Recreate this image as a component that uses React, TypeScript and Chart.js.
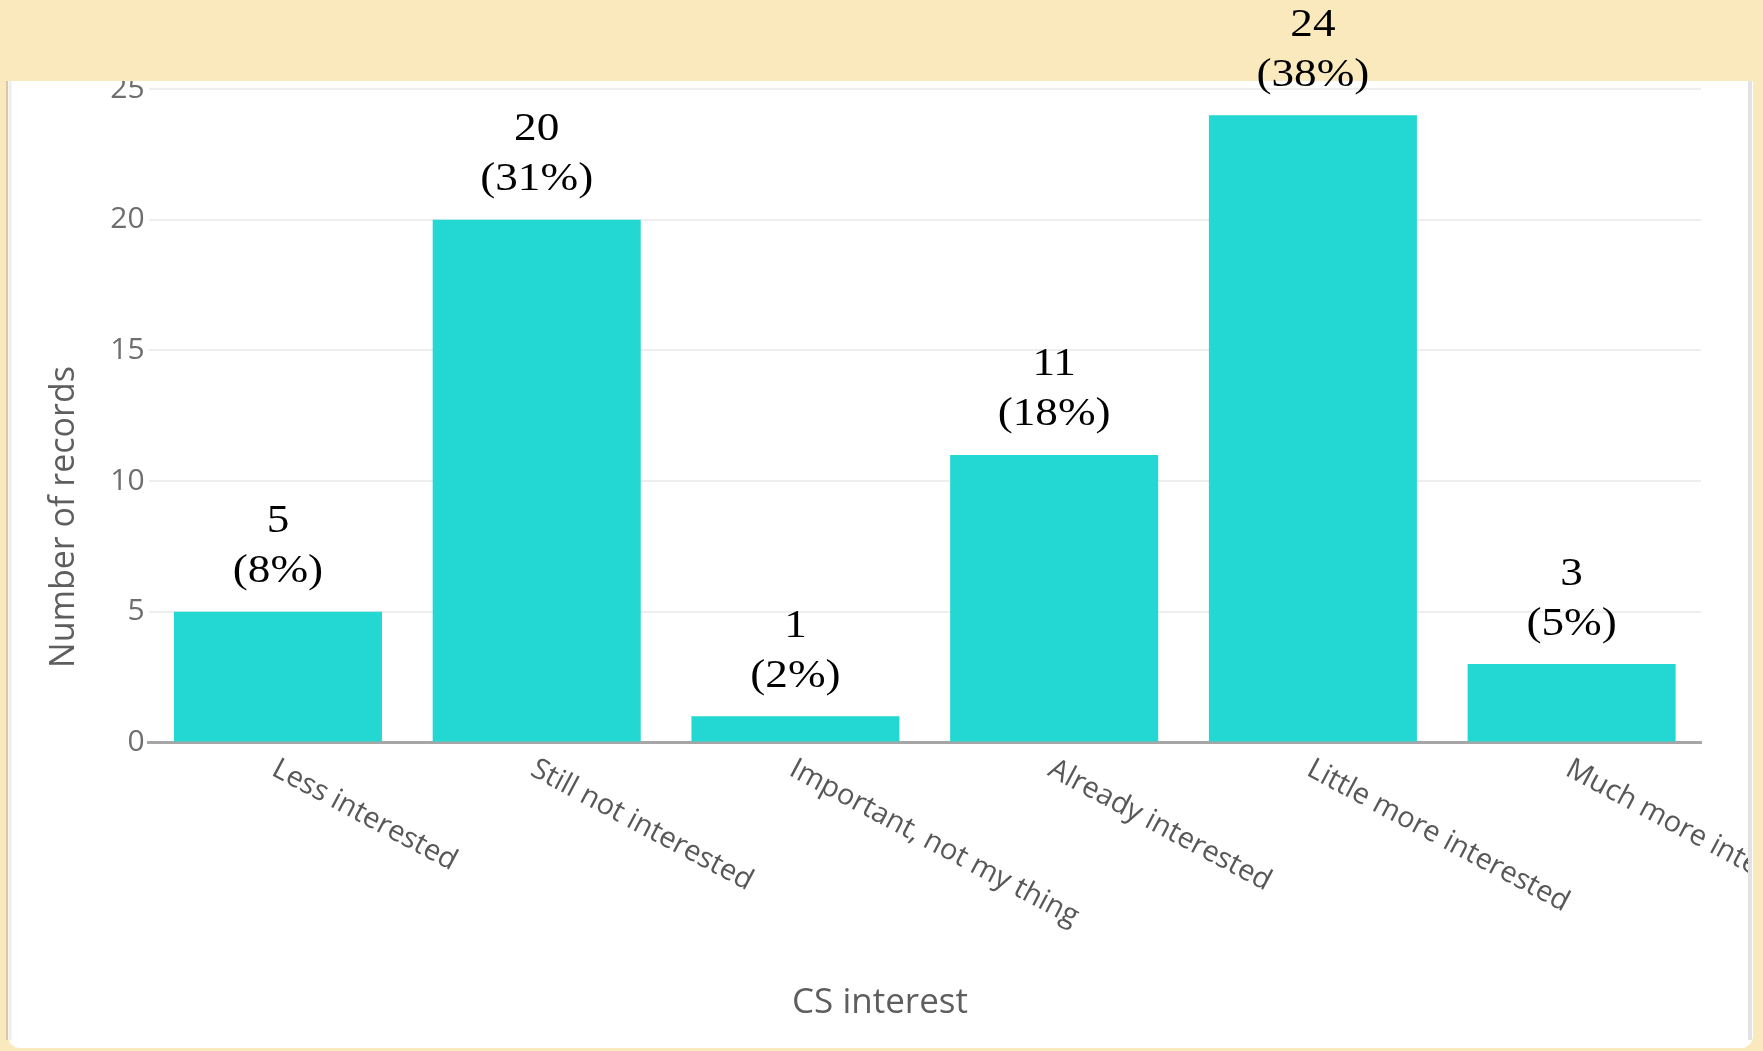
import React, { useEffect, useRef } from "react";
import { Chart, registerables } from "chart.js";

Chart.register(...registerables);

// ---- data ----
const categories = [
  "Less interested",
  "Still not interested",
  "Important, not my thing",
  "Already interested",
  "Little more interested",
  "Much more interested",
];
const counts = [5, 20, 1, 11, 24, 3];
const percentLabels = ["(8%)", "(31%)", "(2%)", "(18%)", "(38%)", "(5%)"];
const yMin = 0;
const yMax = 25;
const yStep = 5;
const xTitle = "CS interest";
const yTitle = "Number of records";

// ---- styles ----
const BEIGE = "#F9E9BC";
const BAR = "#23D8D3";
const SANS = '"Open Sans", "Liberation Sans", sans-serif';
const SERIF = '"Liberation Serif", "DejaVu Serif", serif';

const decorPlugin = {
  id: "decor",
  beforeDraw(chart: any) {
    const ctx = chart.ctx as CanvasRenderingContext2D;
    const W = chart.width;
    const H = chart.height;
    ctx.save();
    ctx.fillStyle = BEIGE;
    ctx.fillRect(0, 0, W, H);
    // white panel
    ctx.fillStyle = "#ffffff";
    ctx.beginPath();
    (ctx as any).roundRect(8, 40, 1745, 1008, 12);
    ctx.fill();
    // panel edges
    ctx.strokeStyle = "#d9caa2";
    ctx.lineWidth = 2;
    ctx.beginPath();
    ctx.moveTo(7, 40);
    ctx.lineTo(7, 1040);
    ctx.stroke();
    ctx.strokeStyle = "#eeeeee";
    ctx.lineWidth = 3;
    ctx.beginPath();
    ctx.moveTo(10, 40);
    ctx.lineTo(10, 1040);
    ctx.stroke();
    ctx.strokeStyle = "#e2e2e2";
    ctx.lineWidth = 4;
    ctx.beginPath();
    ctx.moveTo(1750, 40);
    ctx.lineTo(1750, 1040);
    ctx.stroke();
    ctx.restore();
  },
  afterDraw(chart: any) {
    const ctx = chart.ctx as CanvasRenderingContext2D;
    const xs = chart.scales.x;
    const ys = chart.scales.y;
    const W = chart.width;

    // rotated category labels
    ctx.save();
    ctx.beginPath();
    ctx.rect(10, 0, 1738, chart.height);
    ctx.clip();
    ctx.fillStyle = "#585858";
    ctx.font = `29px ${SANS}`;
    ctx.textAlign = "left";
    ctx.textBaseline = "top";
    categories.forEach((c, i) => {
      const px = xs.getPixelForValue(i);
      ctx.save();
      ctx.translate(px + 3, ys.bottom + 12);
      ctx.rotate((28 * Math.PI) / 180);
      ctx.fillText(c, 0, 0);
      ctx.restore();
    });
    ctx.restore();

    // axis titles
    ctx.save();
    ctx.fillStyle = "#5e5e5e";
    ctx.textAlign = "center";
    ctx.textBaseline = "middle";
    ctx.font = `35px ${SANS}`;
    ctx.fillText(xTitle, 880, 1003);
    ctx.font = `34px ${SANS}`;
    ctx.translate(64, 517);
    ctx.rotate(-Math.PI / 2);
    ctx.fillText(yTitle, 0, 0);
    ctx.restore();

    // top beige band
    ctx.save();
    ctx.fillStyle = BEIGE;
    ctx.fillRect(0, 0, W, 81);
    ctx.restore();

    // value labels
    ctx.save();
    ctx.fillStyle = "#000000";
    ctx.font = `40px ${SERIF}`;
    ctx.textAlign = "center";
    ctx.textBaseline = "middle";
    counts.forEach((v, i) => {
      const px = xs.getPixelForValue(i);
      const top = ys.getPixelForValue(v);
      ctx.save();
      ctx.translate(px, 0);
      ctx.scale(1.13, 1);
      ctx.fillText(String(v), 0, top - 90);
      ctx.fillText(percentLabels[i], 0, top - 40);
      ctx.restore();
    });
    ctx.restore();
  },
};

export default function App() {
  const ref = useRef<HTMLCanvasElement | null>(null);
  useEffect(() => {
    if (!ref.current) return;
    const chart = new Chart(ref.current, {
      type: "bar",
      data: {
        labels: categories,
        datasets: [
          {
            data: counts,
            backgroundColor: BAR,
            borderWidth: 0,
            barPercentage: 0.804,
            categoryPercentage: 1,
          },
        ],
      },
      options: {
        responsive: false,
        animation: false,
        layout: { padding: { left: 0, top: 89, right: 62, bottom: 308.5 } },
        plugins: {
          legend: { display: false },
          tooltip: { enabled: false },
        },
        scales: {
          x: {
            ticks: { display: false },
            grid: { display: true, color: "rgba(0,0,0,0)", drawTicks: false },
            border: { display: true, color: "#a6a6a6", width: 3 },
            afterFit: (s: any) => {
              s.height = 0;
            },
          },
          y: {
            min: yMin,
            max: yMax,
            ticks: {
              stepSize: yStep,
              padding: 4,
              color: "#6e6e6e",
              font: { family: SANS, size: 30 },
            },
            grid: { color: "#eeeeee", lineWidth: 2, drawTicks: false },
            border: { display: false },
            afterFit: (s: any) => {
              s.width = 148.6;
            },
          },
        },
      },
      plugins: [decorPlugin],
    });
    return () => chart.destroy();
  }, []);

  return (
    <div style={{ position: "fixed", left: 0, top: 0, width: 1763, height: 1051 }}>
      <canvas ref={ref} width={1763} height={1051} style={{ display: "block" }} />
    </div>
  );
}
